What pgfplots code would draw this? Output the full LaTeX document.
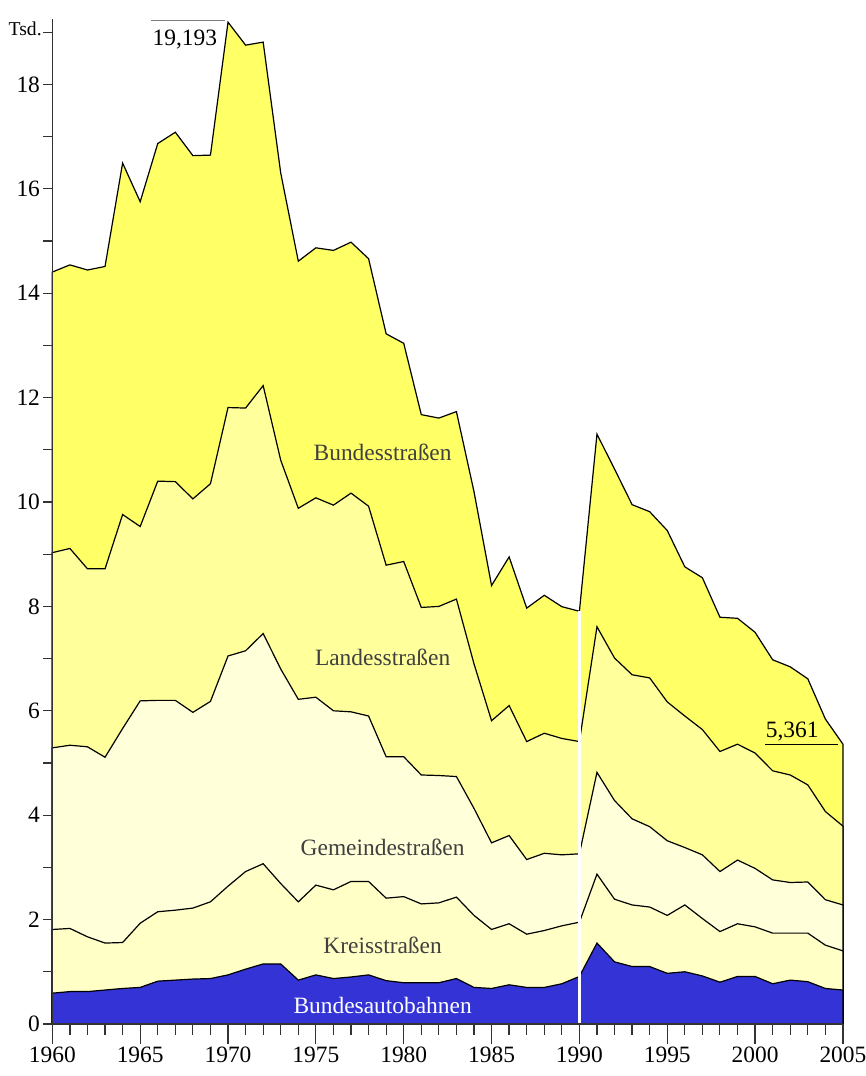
\documentclass[border=0pt]{standalone}
\usepackage{pgfplots}
\usepackage{pgfplotstable}
\pgfplotsset{compat=1.18}
\usepackage{fontspec}
\setmainfont{Liberation Serif}
\definecolor{cBab}{HTML}{3333D6}
\definecolor{cBund}{HTML}{FFFF66}
\definecolor{cLand}{HTML}{FFFF9C}
\definecolor{cGem}{HTML}{FFFFDA}
\definecolor{cKre}{HTML}{FFFFC6}
\definecolor{axgray}{HTML}{333333}
\definecolor{lblgray}{HTML}{404040}
\newcommand{\fs}{\fontsize{11.7}{14}\selectfont}

\pgfplotstableread{
year tot lan gem kre bab
1960 14.406 9.03 5.29 1.81 0.59
1961 14.543 9.11 5.34 1.83 0.62
1962 14.445 8.72 5.31 1.67 0.62
1963 14.513 8.72 5.11 1.55 0.65
1964 16.494 9.76 5.66 1.56 0.68
1965 15.753 9.53 6.19 1.93 0.70
1966 16.868 10.40 6.20 2.15 0.82
1967 17.084 10.39 6.20 2.18 0.84
1968 16.636 10.06 5.97 2.22 0.86
1969 16.646 10.35 6.18 2.34 0.87
1970 19.193 11.81 7.05 2.64 0.94
1971 18.753 11.80 7.15 2.92 1.05
1972 18.811 12.23 7.48 3.07 1.15
1973 16.302 10.80 6.80 2.69 1.15
1974 14.614 9.88 6.22 2.34 0.84
1975 14.870 10.08 6.26 2.66 0.94
1976 14.820 9.94 6.00 2.57 0.87
1977 14.978 10.17 5.98 2.73 0.90
1978 14.662 9.92 5.90 2.73 0.94
1979 13.222 8.79 5.12 2.41 0.83
1980 13.041 8.86 5.12 2.44 0.79
1981 11.674 7.98 4.77 2.30 0.79
1982 11.608 8.00 4.76 2.32 0.79
1983 11.732 8.14 4.74 2.43 0.87
1984 10.199 6.90 4.13 2.08 0.70
1985 8.400 5.81 3.47 1.81 0.68
1986 8.948 6.10 3.61 1.92 0.75
1987 7.967 5.41 3.15 1.72 0.70
1988 8.213 5.57 3.27 1.79 0.70
1989 7.995 5.47 3.24 1.88 0.77
1990 7.906 5.41 3.26 1.95 0.91
1991 11.300 7.61 4.82 2.87 1.55
1992 10.631 7.01 4.28 2.39 1.19
1993 9.949 6.69 3.93 2.28 1.10
1994 9.814 6.63 3.78 2.24 1.10
1995 9.454 6.17 3.51 2.08 0.97
1996 8.758 5.90 3.38 2.28 1.00
1997 8.549 5.64 3.24 2.02 0.92
1998 7.792 5.22 2.92 1.77 0.80
1999 7.772 5.36 3.14 1.92 0.91
2000 7.503 5.19 2.98 1.86 0.91
2001 6.977 4.85 2.76 1.74 0.77
2002 6.842 4.77 2.71 1.74 0.84
2003 6.613 4.58 2.72 1.74 0.81
2004 5.842 4.07 2.38 1.51 0.68
2005 5.361 3.79 2.28 1.40 0.65
}\data

\pgfplotsset{base/.style={
  scale only axis, width=395pt, height=502pt,
  xmin=1960, xmax=2005, ymin=0, ymax=19.25,
  tick align=outside,
  axis line style={draw=axgray, line width=0.6pt},
  every tick/.style={draw=axgray, line width=0.6pt},
  ticklabel style={font=\fs, inner sep=0pt},
  /pgf/number format/assume math mode=true,
  /pgf/number format/1000 sep={},
  clip=false,
}}

\begin{document}
\begin{tikzpicture}
\begin{axis}[base, name=ax,
  axis on top=true,
  axis x line*=bottom, axis y line*=left,
  xtick=\empty,
  ytick={0,2,...,18}, minor ytick={1,3,...,19},
  major tick length=4.5pt, minor tick length=4.5pt,
  yticklabel style={xshift=-1.5pt},
]
\addplot[fill=cBund, draw=black, line width=0.6pt] table[x=year, y=tot] {\data} \closedcycle;
\addplot[fill=cLand, draw=black, line width=0.6pt] table[x=year, y=lan] {\data} \closedcycle;
\addplot[fill=cGem, draw=black, line width=0.6pt] table[x=year, y=gem] {\data} \closedcycle;
\addplot[fill=cKre, draw=black, line width=0.6pt] table[x=year, y=kre] {\data} \closedcycle;
\addplot[fill=cBab, draw=black, line width=0.6pt] table[x=year, y=bab] {\data} \closedcycle;
\addplot[white, line width=1.5pt] coordinates {(1990,0) (1990,7.906)};

\node[anchor=base, font=\fs, text=lblgray] at (axis cs:1978.8,10.79) {Bundesstraßen};
\node[anchor=base, font=\fs, text=lblgray] at (axis cs:1978.8,6.86) {Landesstraßen};
\node[anchor=base, font=\fs, text=lblgray] at (axis cs:1978.8,3.22) {Gemeindestraßen};
\node[anchor=base, font=\fs, text=lblgray] at (axis cs:1978.8,1.354) {Kreisstraßen};
\node[anchor=base, font=\fs, text=white] at (axis cs:1978.8,0.205) {Bundesautobahnen};

\node[anchor=base west, inner sep=0pt, font=\fs] at (axis cs:1965.69,18.755) {19,193};
\draw[gray, line width=0.5pt] (axis cs:1965.62,19.22) -- (axis cs:1969.83,19.22);
\node[anchor=base west, inner sep=0pt, font=\fs] at (axis cs:2000.59,5.49) {5,361};
\draw[black, line width=0.5pt] (axis cs:2000.59,5.345) -- (axis cs:2004.73,5.345);

\node[anchor=base west, inner sep=0pt, font=\fontsize{9.8}{11}\selectfont] at ([xshift=-22pt]axis cs:1960,18.93) {Tsd.};
\end{axis}
\begin{axis}[base,
  axis x line*=bottom, axis y line=none,
  ytick=\empty,
  xtick={1960,1965,...,2005}, minor xtick={1960,...,2005},
  major tick length=10pt, minor tick length=5.5pt,
  xticklabel style={yshift=-1.5pt},
]
\end{axis}
\pgfresetboundingbox
\useasboundingbox ([xshift=-26.15pt,yshift=-26pt]ax.south west) rectangle ([xshift=11.25pt,yshift=9.6pt]ax.north east);
\end{tikzpicture}
\end{document}
